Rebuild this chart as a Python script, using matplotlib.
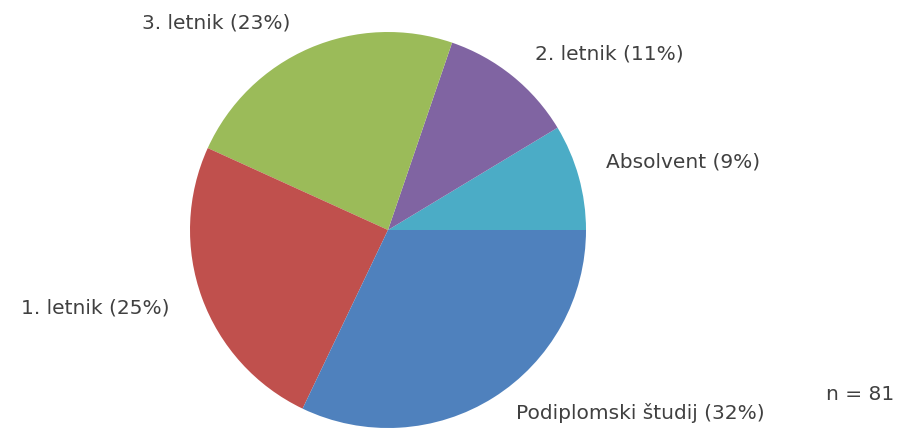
import matplotlib.pyplot as plt

# answers per study year (n = 81), counter-clockwise from the east
labels = ['Absolvent', '2. letnik', '3. letnik', '1. letnik', 'Podiplomski študij']
counts = [7, 9, 19, 20, 26]
colors = ['#4BACC6', '#8064A2', '#9BBB59', '#C0504D', '#4F81BD']

# label text centres in pixels (x, y from top)
label_pos = [(683, 162), (609, 54), (216, 23), (95, 308), (640, 413)]

W, H = 899, 430
fig = plt.figure(figsize=(W / 100, H / 100), dpi=100)
cx, cy, r = 388, 230, 198
ax = fig.add_axes([(cx - r) / W, (H - cy - r) / H, 2 * r / W, 2 * r / H])

ax.pie(counts, colors=colors, startangle=0, counterclock=True, radius=1,
       wedgeprops=dict(linewidth=0))
ax.set_xlim(-1, 1)
ax.set_ylim(-1, 1)
ax.set_aspect('auto')
ax.axis('off')

total = sum(counts)
for lab, c, (px, py) in zip(labels, counts, label_pos):
    pct = round(100 * c / total)
    fig.text(px / W, 1 - py / H, f'{lab} ({pct}%)', ha='center', va='center',
             fontsize=14.5, color='#404040')

fig.text(860 / W, 1 - 394 / H, f'n = {total}', ha='center', va='center',
         fontsize=14.5, color='#404040')

fig.savefig('out.png', dpi=100)
